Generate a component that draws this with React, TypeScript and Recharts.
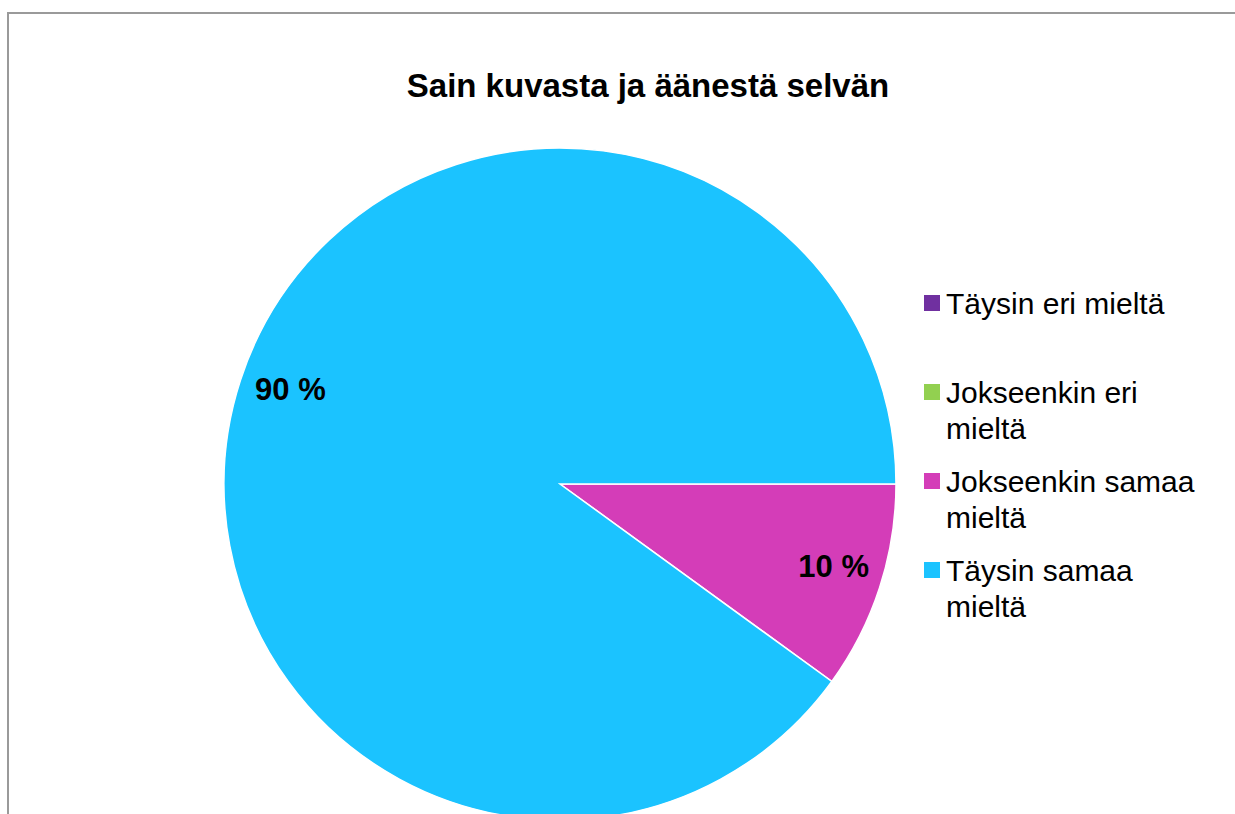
import { Cell, Pie, PieChart } from "recharts";

const categories = [
  "Täysin eri mieltä",
  "Jokseenkin eri mieltä",
  "Jokseenkin samaa mieltä",
  "Täysin samaa mieltä",
];
const shares = [0, 0, 10, 90];
const colors = ["#7030A0", "#92D050", "#D43DB8", "#1BC3FF"];
// legend lines as wrapped in the original
const legendLines = [
  ["Täysin eri mieltä"],
  ["Jokseenkin eri", "mieltä"],
  ["Jokseenkin samaa", "mieltä"],
  ["Täysin samaa", "mieltä"],
];
const legendTops = [286, 375, 464, 553];

const title = "Sain kuvasta ja äänestä selvän";

const data = categories.map((name, i) => ({ name, value: shares[i] }));

const font = "'Liberation Sans', Arial, sans-serif";
const RAD = Math.PI / 180;

function renderLabel(props: any) {
  const { cx, cy, midAngle, outerRadius, value } = props;
  if (!value) return null;
  const r = outerRadius * 0.85;
  const x = cx + r * Math.cos(-midAngle * RAD) + 2;
  const y = cy + r * Math.sin(-midAngle * RAD) - 6;
  return (
    <text
      x={x}
      y={y}
      textAnchor="middle"
      dominantBaseline="central"
      fontFamily={font}
      fontWeight="bold"
      fontSize={31}
      fill="#000"
    >
      {`${value} %`}
    </text>
  );
}

export default function App() {
  return (
    <div
      style={{
        position: "absolute",
        left: 0,
        top: 0,
        width: 1235,
        height: 814,
        overflow: "hidden",
        background: "#fff",
        fontFamily: font,
      }}
    >
      <div
        style={{
          position: "absolute",
          left: 7,
          top: 12,
          width: 1260,
          height: 840,
          border: "2px solid #9a9a9a",
        }}
      />
      <div
        style={{
          position: "absolute",
          left: 0,
          top: 67,
          width: 1296,
          textAlign: "center",
          fontSize: 33,
          fontWeight: "bold",
          color: "#000",
        }}
      >
        {title}
      </div>
      <div style={{ position: "absolute", left: 0, top: 0 }}>
        <PieChart width={1235} height={814} margin={{ top: 0, right: 0, bottom: 0, left: 0 }}>
          <Pie
            data={data}
            dataKey="value"
            nameKey="name"
            cx={560}
            cy={484}
            outerRadius={336}
            startAngle={0}
            endAngle={-360}
            stroke="#ffffff"
            strokeWidth={1.5}
            label={renderLabel}
            labelLine={false}
            isAnimationActive={false}
          >
            {data.map((d, i) => (
              <Cell key={d.name} fill={colors[i]} />
            ))}
          </Pie>
        </PieChart>
      </div>
      {legendLines.map((lines, i) => (
        <div
          key={categories[i]}
          style={{ position: "absolute", left: 924, top: legendTops[i] }}
        >
          <div
            style={{
              position: "absolute",
              left: 0,
              top: 9,
              width: 16,
              height: 16,
              background: colors[i],
            }}
          />
          <div
            style={{
              position: "absolute",
              left: 22,
              top: 0,
              fontSize: 30,
              lineHeight: "36px",
              whiteSpace: "nowrap",
              color: "#000",
            }}
          >
            {lines.map((l) => (
              <div key={l}>{l}</div>
            ))}
          </div>
        </div>
      ))}
    </div>
  );
}
